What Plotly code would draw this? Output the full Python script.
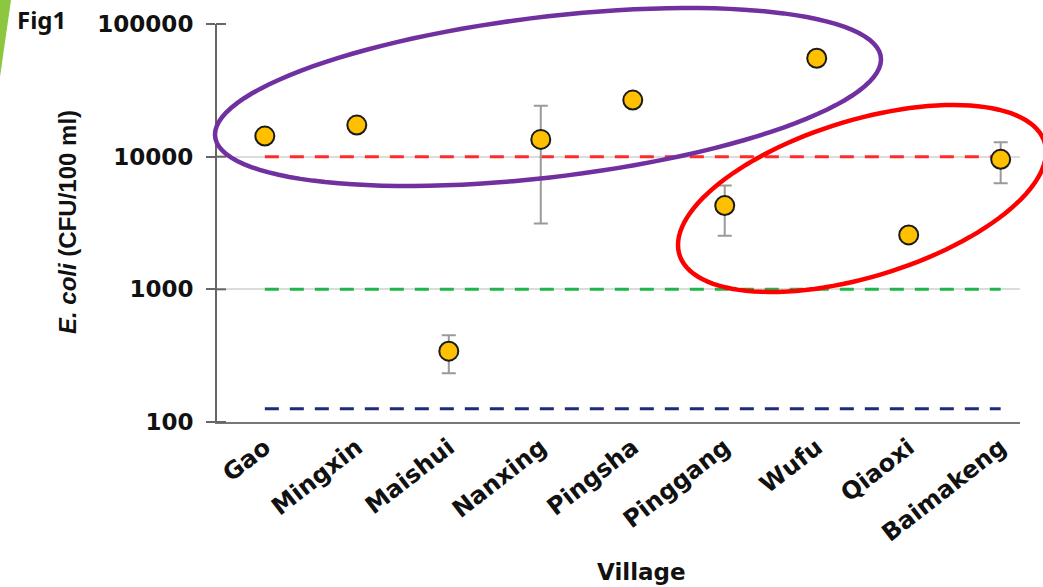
import math
import plotly.graph_objects as go

# E. coli counts per village (CFU/100 ml): geometric mean with the upper/lower bar ends
villages = ["Gao", "Mingxin", "Maishui", "Nanxing", "Pingsha",
            "Pinggang", "Wufu", "Qiaoxi", "Baimakeng"]
ecoli_mean = [14300, 17300, 342, 13500, 26700, 4280, 55200, 2570, 9550]
ecoli_upper = [None, None, 451, 24200, None, 6050, None, None, 12850]
ecoli_lower = [None, None, 233, 3130, None, 2540, None, None, 6300]

# Reference levels drawn as dashed lines
threshold_values = [10000, 1000, 126]
threshold_colors = ["#ff2a2a", "#1fb54a", "#1f2a78"]

y_ticks = [100, 1000, 10000, 100000]
y_tick_text = ["100", "1000", "10000", "100000"]

# Plot-area geometry in pixels
W_FIG, H_FIG = 1043, 587
L, R, T, B = 217, 1020, 24, 422


def px(x):
    return (x - L) / (R - L)


def py(y):
    return (B - y) / (B - T)


def ellipse_path(cx, cy, sx, sy, sxy, n=120):
    """Closed path (paper coords) for an ellipse given in pixels by its centre,
    half-extents along x / y and the x-y coupling term."""
    l11 = math.sqrt(sx * sx)
    l21 = sxy / l11
    l22 = math.sqrt(max(sy * sy - l21 * l21, 1e-6))
    pts = []
    for k in range(n + 1):
        t = 2 * math.pi * k / n
        c, s = math.cos(t), math.sin(t)
        pts.append((px(cx + l11 * c), py(cy + l21 * c + l22 * s)))
    d = "M {:.5f},{:.5f} ".format(*pts[0])
    d += " ".join("L {:.5f},{:.5f}".format(a, b) for a, b in pts[1:])
    return d + " Z"


err_plus = [None if u is None else u - m for u, m in zip(ecoli_upper, ecoli_mean)]
err_minus = [None if lo is None else m - lo for lo, m in zip(ecoli_lower, ecoli_mean)]

fig = go.Figure()

for val, col in zip(threshold_values, threshold_colors):
    fig.add_trace(go.Scatter(
        x=[villages[0], villages[-1]], y=[val, val], mode="lines",
        line=dict(color=col, width=3, dash="14px,11px"),
        hoverinfo="skip", showlegend=False,
    ))

fig.add_trace(go.Scatter(
    x=villages, y=ecoli_mean, mode="markers",
    marker=dict(size=19, color="#ffc000", line=dict(color="#1a1a1a", width=2)),
    error_y=dict(type="data", symmetric=False, array=err_plus,
                 arrayminus=err_minus, color="#9a9a9a", thickness=2, width=7),
    showlegend=False,
))

shapes = []
# inner half of the crossing tick marks on the value axis
for v in y_ticks:
    yy = (math.log10(v) - 2) / 3
    shapes.append(dict(type="line", xref="paper", yref="paper",
                       x0=px(216), x1=px(226), y0=yy, y1=yy,
                       line=dict(color="#666666", width=2)))

# group outlines
shapes.append(dict(type="path", xref="paper", yref="paper",
                   path=ellipse_path(548, 97, 333, 89, -12500),
                   line=dict(color="#7030a0", width=4.5)))
shapes.append(dict(type="path", xref="paper", yref="paper",
                   path=ellipse_path(862, 198.5, 184, 93.5, -8550),
                   line=dict(color="#ff0000", width=4.5)))

# green corner wedge
shapes.append(dict(type="path", xref="paper", yref="paper",
                   path="M {},{} L {},{} L {},{} Z".format(px(0), py(0), px(11), py(0), px(0), py(77)),
                   line=dict(width=0), fillcolor="#8dc63f"))

fig.update_layout(
    width=W_FIG, height=H_FIG,
    margin=dict(l=L, r=W_FIG - R, t=T, b=H_FIG - B, pad=0),
    plot_bgcolor="white", paper_bgcolor="white",
    shapes=shapes,
    xaxis=dict(
        type="category", categoryorder="array", categoryarray=villages,
        range=[-0.52, 8.21],
        showline=True, linecolor="#777777", linewidth=2,
        showgrid=False, ticks="", tickangle=-38,
        tickfont=dict(family="DejaVu Sans", size=24, color="#111111", weight="bold"),
    ),
    yaxis=dict(
        type="log", range=[2, 5],
        tickvals=y_ticks, ticktext=y_tick_text,
        showline=True, linecolor="#666666", linewidth=2,
        ticks="outside", ticklen=9, tickwidth=2, tickcolor="#666666",
        ticklabelstandoff=8,
        showgrid=True, gridcolor="#dcdcdc", gridwidth=1.5,
        tickfont=dict(family="DejaVu Sans", size=23, color="#111111", weight="bold"),
        zeroline=False,
    ),
    annotations=[
        dict(text="Fig1", xref="paper", yref="paper", x=px(15), y=py(20),
             xanchor="left", yanchor="middle", showarrow=False,
             font=dict(family="Noto Sans", size=24, color="#111111", weight="bold")),
        dict(text="Village", xref="paper", yref="paper", x=px(641), y=py(572),
             xanchor="center", yanchor="middle", showarrow=False,
             font=dict(family="DejaVu Sans", size=23, color="#111111", weight="bold")),
        dict(text="<i>E. coli</i> (CFU/100 ml)", xref="paper", yref="paper",
             x=px(67), y=py(222), textangle=-90,
             xanchor="center", yanchor="middle", showarrow=False,
             font=dict(family="Liberation Sans", size=24, color="#111111", weight="bold")),
    ],
)

fig.write_html("out.html")
